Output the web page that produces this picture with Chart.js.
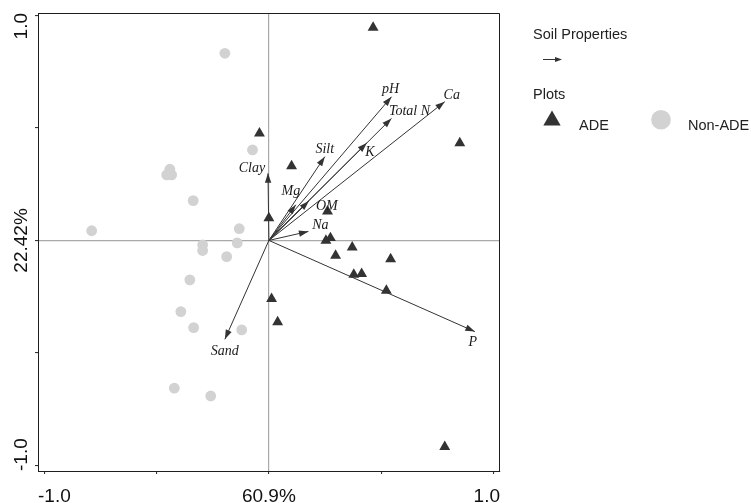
<!DOCTYPE html>
<html>
<head>
<meta charset="utf-8">
<script src="https://cdn.jsdelivr.net/npm/chart.js@4/dist/chart.umd.min.js"></script>
<style>
  html, body { margin: 0; padding: 0; background: #ffffff; }
  #wrap { width: 751px; height: 503px; }
</style>
</head>
<body>
<div id="wrap"><canvas id="biplot" width="751" height="503"></canvas></div>
<script>
// Soil property loadings (arrows of the biplot)
const propNames = ['pH', 'Total N', 'Ca', 'K', 'Silt', 'Clay', 'Mg', 'OM', 'Na', 'P', 'Sand'];
const propX = [0.546, 0.546, 0.783, 0.436, 0.249, -0.004, 0.120, 0.178, 0.176, 0.917, -0.196];
const propY = [0.638, 0.542, 0.616, 0.433, 0.372, 0.298, 0.158, 0.175, 0.040, -0.405, -0.439];

// Plot scores: ADE plots
const adeX = [0.464, 0.850, -0.042, 0.101, 0.000, 0.261, 0.274, 0.254, 0.371, 0.297, 0.542, 0.378, 0.413, 0.523, 0.012, 0.039, 0.783];
const adeY = [0.945, 0.432, 0.476, 0.330, 0.099, 0.129, 0.011, -0.001, -0.031, -0.067, -0.083, -0.152, -0.148, -0.223, -0.259, -0.363, -0.917];

// Plot scores: Non-ADE plots
const nonX = [-0.196, -0.073, -0.441, -0.455, -0.433, -0.337, -0.789, -0.132, -0.141, -0.295, -0.295, -0.188, -0.352, -0.392, -0.335, -0.121, -0.421, -0.259];
const nonY = [0.831, 0.402, 0.316, 0.291, 0.291, 0.177, 0.043, 0.052, -0.011, -0.020, -0.045, -0.072, -0.175, -0.316, -0.387, -0.397, -0.656, -0.691];

// Axis ticks and their labels
const xTickValues = [-1, -0.5, 0, 0.5, 1];
const xTickLabels = ['-1.0', '', '60.9%', '', '1.0'];
const yTickValues = [-1, -0.5, 0, 0.5, 1];
const yTickLabels = ['-1.0', '', '22.42%', '', '1.0'];

// Legend headings
const legendHeadings = ['Soil Properties', 'Plots'];

// ---- styling ----
const DARK = '#333333';
const LIGHT = '#d2d2d2';
const AXIS = '#1e1e1e';
const SANS = '"Liberation Sans", Arial, sans-serif';
const SERIF = '"Liberation Serif", "Times New Roman", serif';

// pixel offsets of each arrow label from the arrow tip
const labelOffset = {
  'pH': [-1, -7], 'Total N': [18, -7], 'Ca': [7, -6], 'K': [3, 9],
  'Silt': [0, -7], 'Clay': [-16, -5], 'Mg': [-5, -14], 'OM': [18, 5],
  'Na': [12, -6], 'P': [-2, 11], 'Sand': [0, 12]
};

const toPoints = (xs, ys) => xs.map((x, i) => ({ x: x, y: ys[i] }));

const datasets = [
  {
    label: 'ADE',
    data: toPoints(adeX, adeY),
    pointStyle: 'triangle',
    pointRadius: 6.3,
    pointBackgroundColor: DARK,
    pointBorderColor: DARK,
    pointBorderWidth: 0,
    showLine: false,
    order: 2
  },
  {
    label: 'Non-ADE',
    data: toPoints(nonX, nonY),
    pointStyle: 'circle',
    pointRadius: 5.4,
    pointBackgroundColor: LIGHT,
    pointBorderColor: LIGHT,
    pointBorderWidth: 0,
    showLine: false,
    order: 1
  }
];

propNames.forEach((name, i) => {
  datasets.push({
    label: name,
    isArrow: true,
    data: [{ x: 0, y: 0 }, { x: propX[i], y: propY[i] }],
    showLine: true,
    borderColor: DARK,
    borderWidth: 1,
    pointRadius: 0,
    fill: false,
    tension: 0,
    order: 0
  });
});

function arrowHead(ctx, x0, y0, x1, y1, len, half) {
  const a = Math.atan2(y1 - y0, x1 - x0);
  ctx.beginPath();
  ctx.moveTo(x1, y1);
  ctx.lineTo(x1 - len * Math.cos(a) + half * Math.sin(a), y1 - len * Math.sin(a) - half * Math.cos(a));
  ctx.lineTo(x1 - len * Math.cos(a) - half * Math.sin(a), y1 - len * Math.sin(a) + half * Math.cos(a));
  ctx.closePath();
  ctx.fill();
}

function triangle(ctx, x, y, r) {
  ctx.beginPath();
  for (let k = 0; k < 3; k++) {
    const t = k * 2 * Math.PI / 3;
    const px = x + Math.sin(t) * r, py = y - Math.cos(t) * r;
    if (k === 0) ctx.moveTo(px, py); else ctx.lineTo(px, py);
  }
  ctx.closePath();
  ctx.fill();
}

const biplotPlugin = {
  id: 'biplotDecor',
  afterDatasetsDraw(chart) {
    const ctx = chart.ctx;
    const area = chart.chartArea;
    ctx.save();

    // arrowheads and italic property labels
    chart.data.datasets.forEach((ds, i) => {
      if (!ds.isArrow) return;
      const meta = chart.getDatasetMeta(i);
      const p0 = meta.data[0], p1 = meta.data[1];
      ctx.fillStyle = DARK;
      arrowHead(ctx, p0.x, p0.y, p1.x, p1.y, 9.5, 3.2);
      const off = labelOffset[ds.label] || [0, 0];
      ctx.font = 'italic 14px ' + SERIF;
      ctx.fillStyle = '#1a1a1a';
      ctx.textAlign = 'center';
      ctx.textBaseline = 'middle';
      ctx.fillText(ds.label, p1.x + off[0], p1.y + off[1]);
    });

    // top and right sides of the frame
    ctx.strokeStyle = AXIS;
    ctx.lineWidth = 1;
    const t = Math.round(area.top) + 0.5, r = Math.round(area.right) - 0.5;
    ctx.beginPath();
    ctx.moveTo(Math.round(area.left), t);
    ctx.lineTo(r, t);
    ctx.lineTo(r, Math.round(area.bottom));
    ctx.stroke();
    ctx.restore();
  },
  afterDraw(chart) {
    const ctx = chart.ctx;
    const area = chart.chartArea;
    const xs = chart.scales.x, ys = chart.scales.y;
    ctx.save();
    ctx.fillStyle = '#111111';
    ctx.font = '19px ' + SANS;
    ctx.textBaseline = 'alphabetic';

    // x tick labels, kept inside the frame width
    ctx.textAlign = 'left';
    xTickValues.forEach((v, i) => {
      const txt = xTickLabels[i];
      if (!txt) return;
      const w = ctx.measureText(txt).width;
      let left = xs.getPixelForValue(v) - w / 2;
      left = Math.max(area.left, Math.min(area.right - w, left));
      ctx.fillText(txt, left, area.bottom + 30.5);
    });

    // y tick labels, rotated, kept inside the frame height
    ctx.textAlign = 'center';
    yTickValues.forEach((v, i) => {
      const txt = yTickLabels[i];
      if (!txt) return;
      const w = ctx.measureText(txt).width;
      let cy = ys.getPixelForValue(v);
      cy = Math.max(area.top + w / 2, Math.min(area.bottom - w / 2, cy));
      ctx.save();
      ctx.translate(area.left - 11.5, cy);
      ctx.rotate(-Math.PI / 2);
      ctx.fillText(txt, 0, 0);
      ctx.restore();
    });

    // legend
    const lx = area.right + 33;
    ctx.font = '14.5px ' + SANS;
    ctx.fillStyle = '#222222';
    ctx.textAlign = 'left';
    ctx.fillText(legendHeadings[0], lx, 38.5);

    ctx.strokeStyle = DARK;
    ctx.fillStyle = DARK;
    ctx.lineWidth = 1;
    ctx.beginPath();
    ctx.moveTo(lx + 10, 59.5);
    ctx.lineTo(lx + 27, 59.5);
    ctx.stroke();
    arrowHead(ctx, lx + 10, 59.5, lx + 29, 59.5, 7, 2.6);

    ctx.fillStyle = '#222222';
    ctx.fillText(legendHeadings[1], lx, 98.7);

    const ade = chart.data.datasets[0], non = chart.data.datasets[1];
    ctx.fillStyle = ade.pointBackgroundColor;
    triangle(ctx, lx + 19, 120.5, 10);
    ctx.fillStyle = '#222222';
    ctx.fillText(ade.label, lx + 46, 129.7);

    ctx.fillStyle = non.pointBackgroundColor;
    ctx.beginPath();
    ctx.arc(lx + 128, 119.7, 9.8, 0, Math.PI * 2);
    ctx.fill();
    ctx.fillStyle = '#222222';
    ctx.fillText(non.label, lx + 155, 129.7);
    ctx.restore();
  }
};

function axisOptions(min, max, tickValues) {
  return {
    type: 'linear',
    min: min,
    max: max,
    afterBuildTicks: (scale) => { scale.ticks = tickValues.map(v => ({ value: v })); },
    ticks: { display: false, autoSkip: false },
    grid: {
      color: (c) => (c.tick && c.tick.value === 0) ? '#a9a9a9' : 'rgba(0,0,0,0)',
      lineWidth: 1.2,
      drawTicks: true,
      tickLength: 3,
      tickColor: AXIS,
      tickWidth: 1
    },
    border: { display: true, color: AXIS, width: 1 }
  };
}

new Chart(document.getElementById('biplot'), {
  type: 'scatter',
  data: { datasets: datasets },
  options: {
    responsive: false,
    animation: false,
    devicePixelRatio: 1,
    layout: { padding: { left: 35, right: 251, top: 13, bottom: 29 } },
    plugins: {
      legend: { display: false },
      tooltip: { enabled: false }
    },
    scales: {
      x: axisOptions(-1.028, 1.029, xTickValues),
      y: axisOptions(-1.024, 1.010, yTickValues)
    }
  },
  plugins: [biplotPlugin]
});
</script>
</body>
</html>
